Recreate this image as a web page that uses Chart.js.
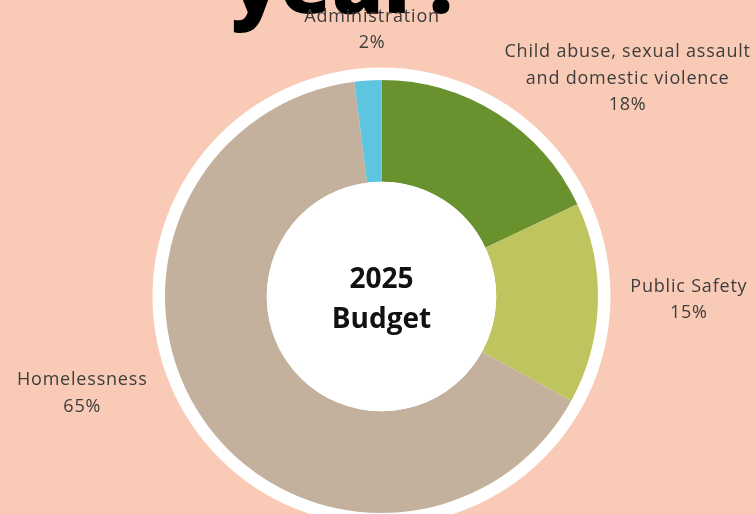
<!DOCTYPE html>
<html>
<head>
<meta charset="utf-8">
<script src="https://cdn.jsdelivr.net/npm/chart.js@4.4.1/dist/chart.umd.min.js"></script>
<style>
  html, body { margin: 0; padding: 0; background: #f9cab6; overflow: hidden; }
  #wrap { width: 756px; height: 514px; position: relative; }
</style>
</head>
<body>
<div id="wrap"><canvas id="budget"></canvas></div>
<script>
// Budget shares for 2025, clockwise from twelve o'clock
const categories = [
  ['Child abuse, sexual assault', 'and domestic violence'],
  ['Public Safety'],
  ['Homelessness'],
  ['Administration']
];
const shares = [18, 15, 65, 2];
const sliceColors = ['#69922e', '#c0c45e', '#c4b19d', '#5ec5e0'];

// Nudge of each label block away from the point beyond its slice's middle
const labelNudges = [[106, 3], [46, -5], [-83, -50], [7, -5.5]];

const centerLines = ['2025', 'Budget'];
const headline = 'year?';

const donutDecor = {
  id: 'donutDecor',
  beforeDraw(chart) {
    const ctx = chart.ctx;
    ctx.save();
    ctx.fillStyle = '#000000';
    ctx.font = '800 83px "Open Sans"';
    ctx.textAlign = 'center';
    ctx.textBaseline = 'alphabetic';
    ctx.fillText(headline, 347, 13);
    ctx.restore();
  },
  beforeDatasetsDraw(chart) {
    const arc = chart.getDatasetMeta(0).data[0];
    if (!arc) return;
    const ctx = chart.ctx;
    ctx.save();
    ctx.fillStyle = '#ffffff';
    ctx.beginPath();
    ctx.arc(arc.x, arc.y, arc.outerRadius + 12.5, 0, Math.PI * 2);
    ctx.fill();
    ctx.restore();
  },
  afterDatasetsDraw(chart) {
    const meta = chart.getDatasetMeta(0);
    const first = meta.data[0];
    if (!first) return;
    const ctx = chart.ctx;
    const cx = first.x, cy = first.y;
    ctx.save();
    // white hole
    ctx.fillStyle = '#ffffff';
    ctx.beginPath();
    ctx.arc(cx, cy, first.innerRadius, 0, Math.PI * 2);
    ctx.fill();

    // centre caption
    ctx.fillStyle = '#111111';
    ctx.font = 'bold 28px "Open Sans"';
    ctx.textAlign = 'center';
    ctx.textBaseline = 'alphabetic';
    ctx.fillText(centerLines[0], cx, cy - 9);
    ctx.fillText(centerLines[1], cx, cy + 31);

    // slice labels
    ctx.fillStyle = '#3d3d3d';
    ctx.font = '18px "Open Sans"';
    ctx.letterSpacing = '0.8px';
    ctx.textBaseline = 'middle';
    const total = shares.reduce((a, b) => a + b, 0);
    meta.data.forEach((el, i) => {
      const mid = (el.startAngle + el.endAngle) / 2;
      const r = el.outerRadius + 45;
      const x = cx + Math.cos(mid) * r + labelNudges[i][0];
      const y = cy + Math.sin(mid) * r + labelNudges[i][1];
      const lines = categories[i].concat([Math.round(shares[i] / total * 100) + '%']);
      const lh = 26.5;
      const top = y - (lines.length - 1) * lh / 2;
      lines.forEach((t, k) => ctx.fillText(t, x, top + k * lh));
    });
    ctx.restore();
  }
};

new Chart(document.getElementById('budget'), {
  type: 'doughnut',
  data: {
    labels: categories.map(c => c.join(' ')),
    datasets: [{
      data: shares,
      backgroundColor: sliceColors,
      borderWidth: 0,
      hoverOffset: 0
    }]
  },
  options: {
    responsive: true,
    maintainAspectRatio: false,
    animation: false,
    cutout: '53%',
    rotation: 0,
    layout: { padding: { left: 165, right: 158, top: 80, bottom: 1 } },
    plugins: {
      legend: { display: false },
      tooltip: { enabled: false }
    },
    events: []
  },
  plugins: [donutDecor]
});
</script>
</body>
</html>
